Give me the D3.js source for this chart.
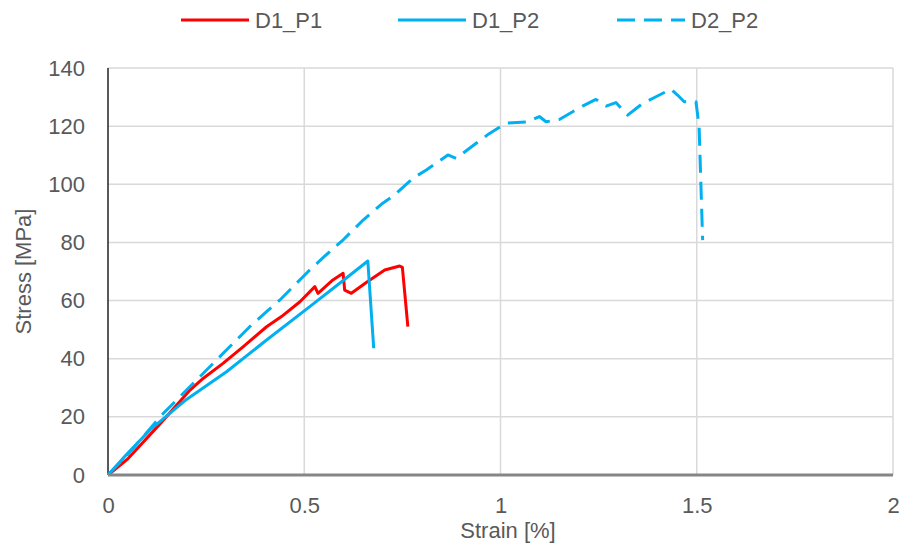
<!DOCTYPE html>
<html>
<head>
<meta charset="utf-8">
<script src="https://cdn.jsdelivr.net/npm/d3@7"></script>
<style>
  body { margin: 0; background: #fff; }
  text { font-family: "Liberation Sans", Arial, sans-serif; fill: #595959; }
</style>
</head>
<body>
<div id="chart"></div>
<script>
// Strain [%] / Stress [MPa] pairs
var d1p1 = [[0,0],[0.05,5.5],[0.132,17.5],[0.209,29.2],[0.243,33.3],[0.293,38.4],[0.344,44.1],[0.404,51.0],
  [0.442,54.5],[0.489,59.6],[0.527,64.8],[0.535,62.5],[0.573,67.1],[0.599,69.4],[0.603,63.6],[0.620,62.5],
  [0.658,66.2],[0.705,70.5],[0.743,71.9],[0.750,71.4],[0.764,51.0]];
var d1p2 = [[0,0],[0.05,7.5],[0.107,15.5],[0.2,26],[0.302,35.5],[0.4,46],[0.514,57.9],[0.6,67],[0.662,73.6],[0.677,43.6]];
var d2p2 = [[0,0],[0.05,7],[0.141,21.2],[0.251,36.1],[0.285,40.7],[0.327,46.4],[0.361,51.0],[0.404,56.2],
  [0.438,60.2],[0.480,65.9],[0.514,70.5],[0.55,75],[0.6,81],[0.650,87.7],[0.700,93.5],[0.730,96.3],[0.777,102.1],
  [0.811,104.9],[0.866,110.1],[0.887,108.9],[0.938,114.1],[0.972,117.5],[1.014,121.0],[1.069,121.5],
  [1.099,123.3],[1.116,121.5],[1.150,122.3],[1.209,126.9],[1.243,129.2],[1.269,126.9],[1.294,128.1],
  [1.324,123.8],[1.362,127.8],[1.396,130.1],[1.434,132.7],[1.451,130.7],[1.468,128.4],[1.498,128.4],
  [1.506,119.8],[1.515,80.8]];

var seriesNames = ['D1_P1', 'D1_P2', 'D2_P2'];
var xTicks = [0, 0.5, 1, 1.5, 2];
var yTicks = [0, 20, 40, 60, 80, 100, 120, 140];

var series = [
  {name: seriesNames[0], values: d1p1, color: '#ff0000', dash: null},
  {name: seriesNames[1], values: d1p2, color: '#00b0f0', dash: null},
  {name: seriesNames[2], values: d2p2, color: '#00b0f0', dash: '18,9'}
];

var W = 902, H = 544;
var margin = {top: 68, right: 9, bottom: 69, left: 108};
var width = W - margin.left - margin.right;
var height = H - margin.top - margin.bottom;

var svg = d3.select('#chart').append('svg')
    .attr('width', W)
    .attr('height', H);

var plotArea = svg.append('g')
    .attr('transform', `translate(${margin.left}, ${margin.top})`);

var x = d3.scaleLinear().domain([0, 2]).range([0, width]);
var y = d3.scaleLinear().domain([0, 140]).range([height, 0]);

// gridlines
plotArea.append('g')
  .selectAll('line')
  .data(yTicks.slice(1))
  .join('line')
    .attr('x1', 0).attr('x2', width)
    .attr('y1', d => y(d)).attr('y2', d => y(d))
    .attr('stroke', '#d9d9d9').attr('stroke-width', 1.5);
plotArea.append('g')
  .selectAll('line')
  .data(xTicks.slice(1))
  .join('line')
    .attr('x1', d => x(d)).attr('x2', d => x(d))
    .attr('y1', 0).attr('y2', height)
    .attr('stroke', '#d9d9d9').attr('stroke-width', 1.5);

// axes
var xAxis = plotArea.append('g')
    .attr('transform', `translate(0, ${height})`)
    .call(d3.axisBottom(x).tickValues(xTicks).tickSize(0).tickPadding(22).tickFormat(d3.format('')));
var yAxis = plotArea.append('g')
    .call(d3.axisLeft(y).tickValues(yTicks).tickSize(0).tickPadding(23));

xAxis.select('.domain').remove();
yAxis.select('.domain').remove();
xAxis.selectAll('text').style('font-size', '22px').attr('fill', '#595959');
yAxis.selectAll('text').style('font-size', '22px').attr('fill', '#595959');

plotArea.append('line')
    .attr('x1', 0).attr('x2', 0).attr('y1', 0).attr('y2', height)
    .attr('stroke', '#222').attr('stroke-width', 1.5);

// lines
var line = d3.line().x(d => x(d[0])).y(d => y(d[1]));

plotArea.append('g')
  .selectAll('path')
  .data(series)
  .join('path')
    .attr('d', d => line(d.values))
    .attr('fill', 'none')
    .attr('stroke', d => d.color)
    .attr('stroke-width', 3)
    .attr('stroke-linejoin', 'round')
    .attr('stroke-dasharray', d => d.dash);

plotArea.append('line')
    .attr('x1', 0).attr('x2', width).attr('y1', height).attr('y2', height)
    .attr('stroke', '#868686').attr('stroke-width', 3);

// axis titles
svg.append('text')
    .attr('x', 508)
    .attr('y', 538)
    .attr('text-anchor', 'middle')
    .style('font-size', '22px')
    .text('Strain [%]');
svg.append('text')
    .attr('transform', `translate(31, ${margin.top + height / 2}) rotate(-90)`)
    .attr('text-anchor', 'middle')
    .style('font-size', '22px')
    .text('Stress [MPa]');

// legend
var legendX = [181, 398, 617];
var legend = svg.append('g')
  .selectAll('g')
  .data(series)
  .join('g')
    .attr('transform', (d, i) => `translate(${legendX[i]}, 20)`);
legend.append('line')
    .attr('x1', 0).attr('x2', 68)
    .attr('stroke', d => d.color)
    .attr('stroke-width', 3)
    .attr('stroke-dasharray', d => d.dash);
legend.append('text')
    .attr('x', 74)
    .attr('y', 8)
    .style('font-size', '22px')
    .text(d => d.name);
</script>
</body>
</html>
